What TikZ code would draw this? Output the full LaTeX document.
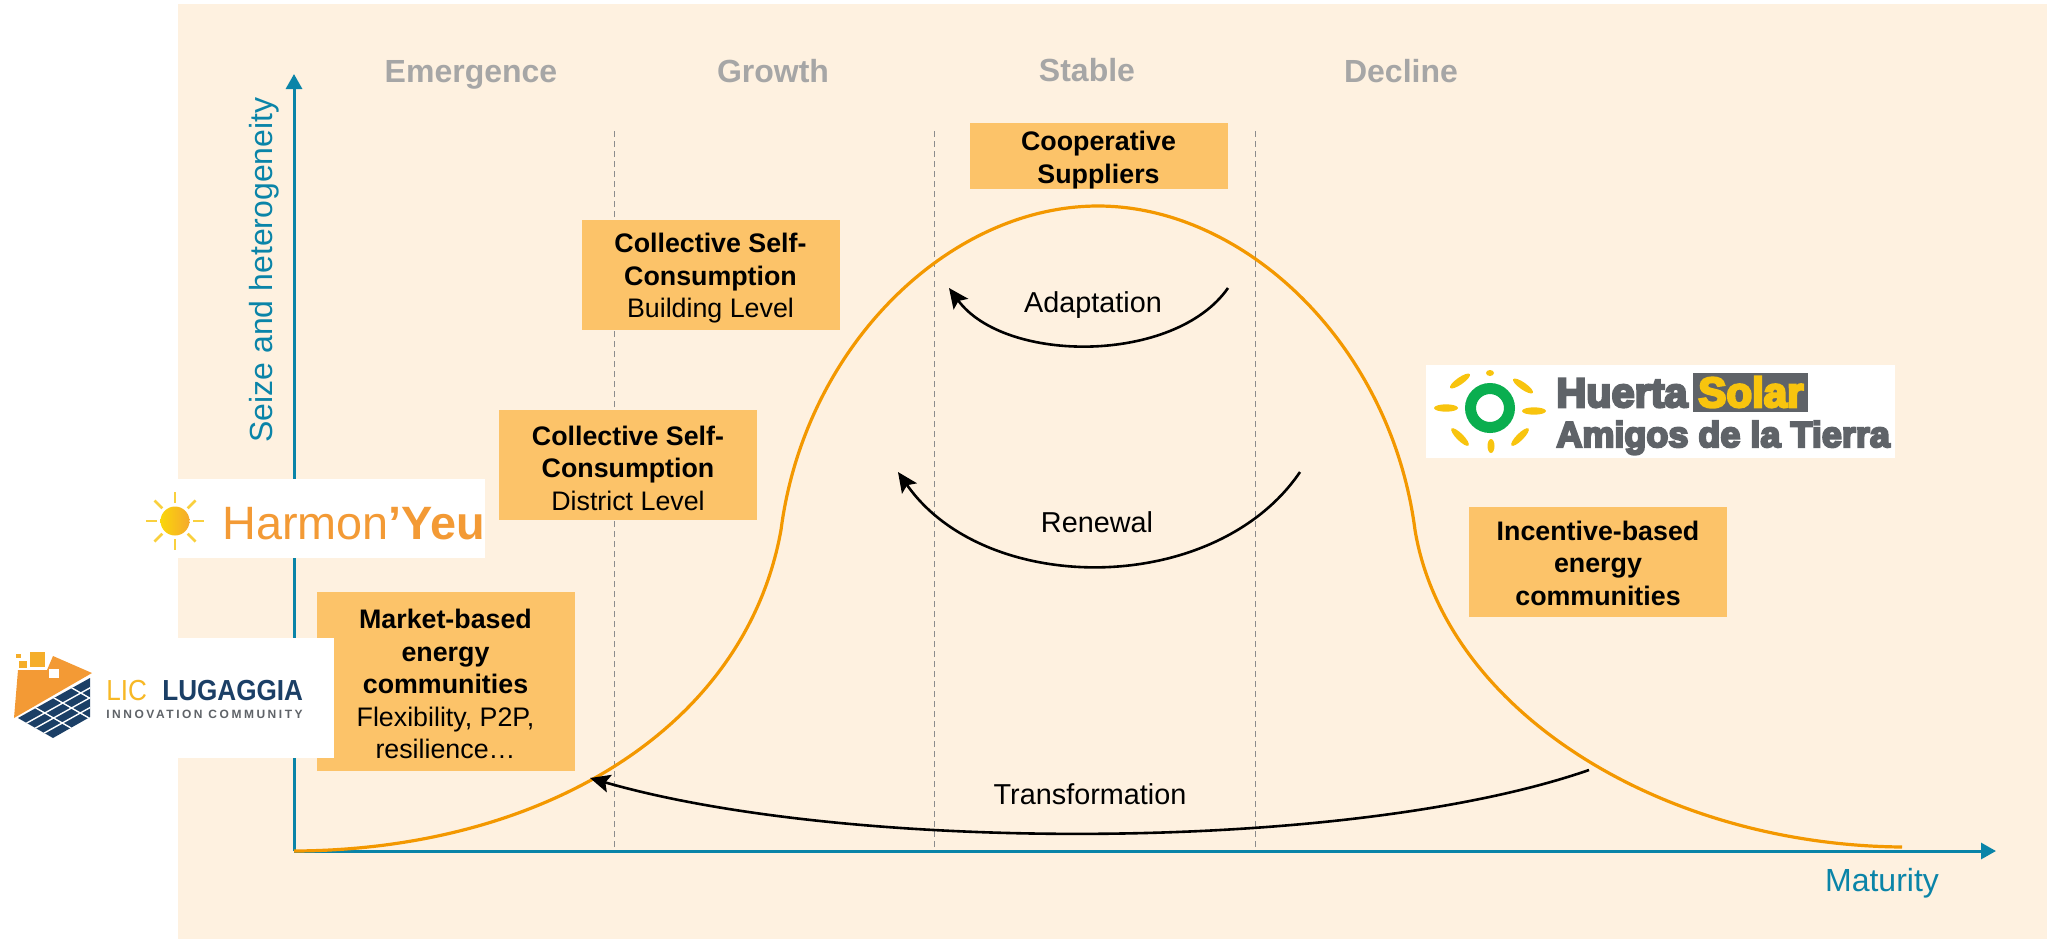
\documentclass[tikz,border=0pt]{standalone}
\usepackage{fontspec}
\usepackage{tikz}
\usetikzlibrary{arrows.meta}
\setmainfont{Liberation Sans}
\newfontfamily\logofont[FakeBold=6]{Liberation Sans}
\newfontfamily\narrowfont[FakeStretch=0.9]{Liberation Sans}
\newfontfamily\spacedfont[LetterSpace=21]{Liberation Sans}
\definecolor{cream}{HTML}{FEF1E0}
\definecolor{boxfill}{HTML}{FCC369}
\definecolor{teal}{HTML}{0A84A8}
\definecolor{curveorange}{HTML}{F39800}
\definecolor{phasegrey}{HTML}{A6A6A6}
\definecolor{logogrey}{HTML}{5F6368}
\definecolor{logonavy}{HTML}{1B3F66}
\definecolor{logoorange}{HTML}{F39A35}
\definecolor{sunyellow}{HTML}{F8C40E}
\definecolor{ringgreen}{HTML}{0AAE4F}

\begin{document}
\begin{tikzpicture}[x=0.5pt, y=-0.5pt,
        phase/.style = {anchor=base, text=phasegrey, font=\fontsize{16}{19}\selectfont\bfseries},
        main/.style = {fill=boxfill, inner sep=0pt, minimum width=129pt, minimum height=55pt, align=center, font=\fontsize{13.4}{16.2}\selectfont},
        flow/.style = {draw, line width=1.3pt, -{Stealth[length=10pt,width=9pt,inset=2pt]}},
        axis/.style = {draw=teal, line width=1.5pt, -{Triangle[length=7.5pt,width=8pt]}},
        axislabel/.style = {text=teal, font=\fontsize{16}{19}\selectfont},
        flowlabel/.style = {font=\fontsize{14.4}{17}\selectfont},
        divider/.style = {draw=black!45, line width=0.4pt, dash pattern=on 3pt off 2pt},
        logobox/.style = {fill=white, draw=none},
        logotext/.style = {anchor=base west, inner sep=0pt}]
            \useasboundingbox (0,0) rectangle (2047,939);
            \fill[cream] (178,4) rectangle (2047,939);

            \coordinate (o) at (294,851);
            \coordinate (ytip) at (294,74);
            \coordinate (xtip) at (1996,851);

            \foreach \name/\x in {d1/614, d2/934, d3/1255} {
                \coordinate (\name t) at (\x,131);
                \coordinate (\name b) at (\x,851);
                \path[divider] (\name t) -- (\name b);
            }

            \path[axis] (o) -- (ytip);
            \path[axis] (o) -- (xtip);

            \node[phase] (emergence) at (471,82) {Emergence};
            \node[phase] (growth) at (773,82) {Growth};
            \node[phase] (stable) at (1087,81.5) {Stable};
            \node[phase] (decline) at (1401,82) {Decline};

            \node[axislabel, rotate=90] (seize) at (264,270) {Seize and heterogeneity};
            \node[axislabel] (maturity) at (1882,883) {Maturity};

            \draw[curveorange, line width=1.6pt] (o)
                .. controls (540,850) and (745,730) .. (781,530)
                .. controls (805,345) and (950,206) .. (1098,206)
                .. controls (1245,206) and (1391,345) .. (1415,530)
                .. controls (1445,710) and (1660,845) .. (1902,847);

            \node[main, minimum height=32pt] (coop) at (1098.5,156) {\rule{0pt}{13.7pt}\textbf{Cooperative}\\\textbf{Suppliers}};
            \node[main] (building) at (710.5,275) {\rule{0pt}{13pt}\textbf{Collective Self-}\\\textbf{Consumption}\\Building Level};
            \node[main] (district) at (628,465) {\rule{0pt}{13pt}\textbf{Collective Self-}\\\textbf{Consumption}\\District Level};
            \node[main, minimum height=89.5pt] (market) at (445.5,681.5) {\rule{0pt}{12.3pt}\textbf{Market-based}\\\textbf{energy}\\\textbf{communities}\\Flexibility, P2P,\\resilience…};
            \node[main] (incentive) at (1598,562) {\rule{0pt}{11pt}\textbf{Incentive-based}\\\textbf{energy}\\\textbf{communities}};

            \coordinate (a1) at (1228,288);
            \coordinate (a2) at (949,288);
            \coordinate (r1) at (1300,472);
            \coordinate (r2) at (898,472);
            \coordinate (t1) at (1589,770);
            \coordinate (t2) at (590,778);

            \path[flow] (a1) .. controls (1175,364) and (1005,364) .. (a2);
            \path[flow] (r1) .. controls (1215,597) and (985,597) .. (r2);
            \path[flow] (t1) .. controls (1350,853) and (850,853) .. (t2);

            \node[flowlabel] (adaptation) at (1093,305) {Adaptation};
            \node[flowlabel] (renewal) at (1097,522) {Renewal};
            \node[flowlabel] (transformation) at (1090,794) {Transformation};

            \fill[logobox] (178,479) rectangle (485,558);
            \foreach \a in {0,45,...,315} {
                \draw[sunyellow!80!white, line width=1.4pt] (175,521) ++(\a:18) -- ++(\a:11);
            }
            \shade[left color=sunyellow!70!yellow, right color=logoorange!85!yellow] (175,521) circle (14.5);
            \node[logotext, text=logoorange] (harmon) at (222,539) {\fontsize{23.4}{28}\selectfont Harmon\textbf{’Yeu}};

            \fill[logobox] (0,638) rectangle (334,758);
            \fill[logoorange] (18,670) -- (47,670) -- (53,656) -- (92,673) -- (14,718) -- cycle;
            \fill[logoorange!80!yellow] (30,652) rectangle (45,667);
            \fill[logoorange!80!yellow] (18.5,661) rectangle (26.5,668);
            \fill[logoorange!80!yellow] (16,654) rectangle (21,658);
            \fill[white] (49,669) rectangle (59,678);
            \begin{scope}
                \clip (18,718) -- (90,678) -- (90,717) -- (53,738) -- cycle;
                \fill[logonavy] (0,660) rectangle (100,745);
                \foreach \t in {0.25,0.5,0.75} {
                    \draw[white, line width=0.7pt] (18+35*\t-30,718+20*\t+16.7) -- ++(120,-66.7);
                    \draw[white, line width=0.7pt] (18+72*\t-35,718-40*\t-20) -- ++(105,60);
                }
            \end{scope}
            \node[logotext, text=logoorange!70!yellow] (lic) at (106,700) {\fontsize{14.5}{16}\selectfont\narrowfont LIC};
            \node[logotext, text=logonavy] (lugaggia) at (162,700) {\fontsize{14.5}{16}\selectfont\narrowfont\bfseries LUGAGGIA};
            \node[logotext, text=logogrey] (innovation) at (106,718) {\fontsize{6}{7}\selectfont\spacedfont\bfseries INNOVATION COMMUNITY};

            \fill[logobox] (1426,365) rectangle (1895,458);
            \draw[ringgreen, line width=5.5pt] (1490,408) circle (19.5);
            \foreach \cx/\cy/\w/\h/\a in {1446/408/12/3.7/0, 1534/411/12/3.7/0, 1460/381/12/3.5/35, 1523/386/12/3.5/-35, 1460/437/12/3.5/-45, 1520/437/12/3.5/45, 1490/373/4/3/0, 1491/446/3.5/7/0} {
                \fill[sunyellow, rotate around={\a:(\cx,\cy)}] (\cx,\cy) ellipse ({\w} and {\h});
            }
            \fill[logogrey] (1693,373) rectangle (1808,412);
            \node[logotext, text=logogrey] (huerta) at (1556,407) {\fontsize{20.7}{24}\selectfont\logofont\bfseries Huerta};
            \node[logotext, text=sunyellow] (solar) at (1698,407) {\fontsize{21}{24}\selectfont\logofont\bfseries Solar};
            \node[logotext, text=logogrey] (amigos) at (1556,447) {\fontsize{18}{22}\selectfont\logofont\bfseries Amigos de la Tierra};
        \end{tikzpicture}
\end{document}
